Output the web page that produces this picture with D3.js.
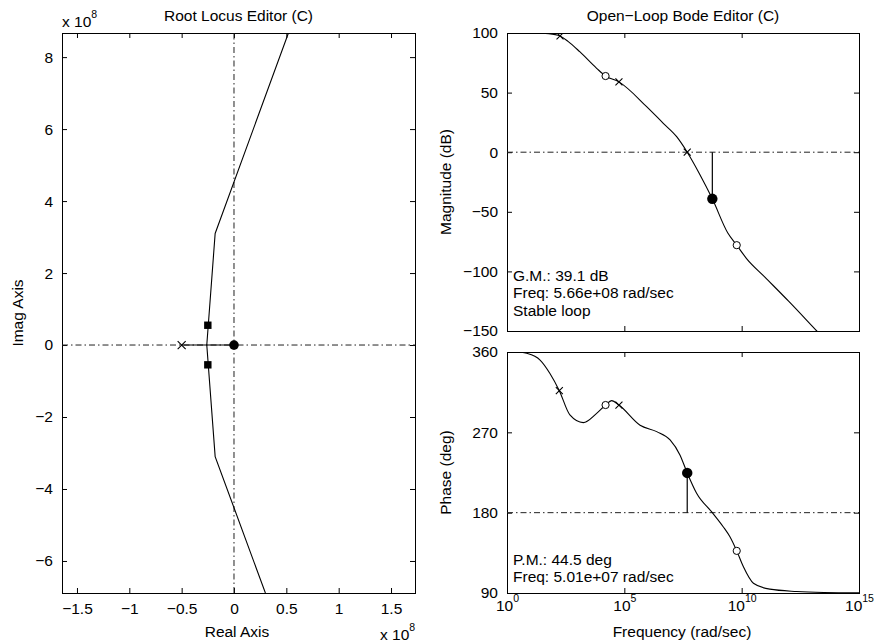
<!DOCTYPE html>
<html>
<head>
<meta charset="utf-8">
<script src="https://cdn.jsdelivr.net/npm/d3@7"></script>
<style>
  body { margin: 0; background: #fff; }
  svg { display: block; }
</style>
</head>
<body>
<svg id="chart"></svg>
<script>
const W = 874, H = 643;
const FONT = '"Liberation Sans", Arial, Helvetica, sans-serif';
const FS = 15.5;

// ---- root locus data (units of 1e8) ----
const rlXTicks = [-1.5, -1, -0.5, 0, 0.5, 1, 1.5];
const rlYTicks = [-6, -4, -2, 0, 2, 4, 6, 8];
const rlOpenPoles = [[-0.5, 0]];
const rlOpenZeros = [[0, 0]];
const rlClosedPoles = [[-0.25, 0.55], [-0.25, -0.55]];
const rlBranchReal = [[-0.5, 0], [0, 0]];
const rlBranchUp = [[-0.26, 0], [-0.18, 3.1], [0.52, 8.67]];
const rlBranchDown = [[-0.26, 0], [-0.18, -3.1], [0.30, -6.89]];

// ---- bode data (frequency as log10 rad/sec) ----
const freqTicks = [1, 1e5, 1e10, 1e15];
const magTicks = [-150, -100, -50, 0, 50, 100];
const phaseTicks = [90, 180, 270, 360];

const magExp = [0, 1, 1.5, 2, 2.26, 2.6, 3.1, 3.82, 4.2, 4.77, 5.95, 6.66, 7.23, 7.68, 8.2, 8.75, 9.41, 9.79, 10.2, 11, 12, 13.2, 14.5];
const magDb  = [100, 100, 99.8, 98.8, 97.5, 93, 84.3, 70.4, 63.9, 59, 38.2, 24.2, 13, 0, -18, -39.1, -67.8, -78, -89, -105, -125, -150, -177];

const phExp = [0, 0.5, 0.84, 1.41, 1.83, 2.23, 2.68, 3.25, 3.82, 4.2, 4.46, 4.77, 5.67, 6.38, 6.95, 7.37, 7.68, 8.08, 8.75, 9.22, 9.5, 9.79, 10.07, 10.5, 11.2, 12.34, 13.5, 15];
const phDeg = [360, 359.8, 358.5, 351, 336, 316.7, 289.5, 280.9, 291.3, 300.6, 305.5, 300.6, 278, 270.8, 261.5, 244.7, 224.5, 201.7, 180, 164, 153, 137.2, 119.6, 101, 94.3, 91.7, 90.6, 90.2];

const magPoles = [[2.26, 97.5], [4.77, 59], [7.68, 0]];
const magZeros = [[4.2, 63.9], [9.79, -78]];
const gmPoint = [8.75, -39.1];
const phPoles = [[2.23, 316.7], [4.77, 300.6]];
const phZeros = [[4.2, 300.6], [9.79, 137.2]];
const pmPoint = [7.68, 224.5];

const gmText = ["G.M.: 39.1 dB", "Freq: 5.66e+08 rad/sec", "Stable loop"];
const pmText = ["P.M.: 44.5 deg", "Freq: 5.01e+07 rad/sec"];

const svg = d3.select("#chart").attr("width", W).attr("height", H)
  .attr("font-family", FONT).attr("font-size", FS);
svg.append("rect").attr("width", W).attr("height", H).attr("fill", "#fff");

const DASH = "6,3,1.5,3";
const noLabel = () => "";
const minus = d => String(d).replace("-", "\u2212");

function xMark(g, cx, cy, s) {
  g.append("path")
    .attr("d", `M${cx - s},${cy - s}L${cx + s},${cy + s}M${cx - s},${cy + s}L${cx + s},${cy - s}`)
    .attr("stroke", "#000").attr("stroke-width", 1.1).attr("fill", "none");
}

// box with inward ticks on all four sides; labels only bottom (optional) and left
function frame(g, x, y, xt, yt, showX, xPad, clipId) {
  const [x0, x1] = x.range();
  const [y0, y1] = y.range(); // y0 bottom, y1 top
  const b = g.append("g").attr("transform", `translate(0,${y0})`)
    .call(d3.axisBottom(x).tickValues(xt).tickSizeInner(-5).tickSizeOuter(0).tickPadding(xPad)
      .tickFormat(showX ? minus : noLabel));
  const t = g.append("g").attr("transform", `translate(0,${y1})`)
    .call(d3.axisTop(x).tickValues(xt).tickSizeInner(-5).tickSizeOuter(0).tickFormat(noLabel));
  const l = g.append("g").attr("transform", `translate(${x0},0)`)
    .call(d3.axisLeft(y).tickValues(yt).tickSizeInner(-5).tickSizeOuter(0).tickPadding(9).tickFormat(minus));
  const r = g.append("g").attr("transform", `translate(${x1},0)`)
    .call(d3.axisRight(y).tickValues(yt).tickSizeInner(-5).tickSizeOuter(0).tickFormat(noLabel));
  [b, t, l, r].forEach(a => {
    a.attr("font-size", FS).attr("font-family", FONT);
    a.select(".domain").remove();
  });
  [t, r].forEach(a => a.selectAll(".tick text").remove());
  if (!showX) b.selectAll(".tick text").remove();
  g.append("rect")
    .attr("x", x0).attr("y", y1).attr("width", x1 - x0).attr("height", y0 - y1)
    .attr("fill", "none").attr("stroke", "#000").attr("stroke-width", 1)
    .attr("shape-rendering", "crispEdges");
  g.append("clipPath").attr("id", clipId).append("rect")
    .attr("x", x0).attr("y", y1).attr("width", x1 - x0).attr("height", y0 - y1);
  return b;
}

// ================= Root locus =================
const xR = d3.scaleLinear([-1.643, 1.729], [62, 415]);
const yR = d3.scaleLinear([-6.89, 8.67], [593, 33]);
const gR = svg.append("g");
frame(gR, xR, yR, rlXTicks, rlYTicks, true, 10, "clipR");

const plotR = gR.append("g").attr("clip-path", "url(#clipR)");
plotR.append("line").attr("x1", xR.range()[0]).attr("x2", xR.range()[1])
  .attr("y1", yR(0)).attr("y2", yR(0))
  .attr("stroke", "#222").attr("stroke-dasharray", DASH);
plotR.append("line").attr("y1", yR.range()[0]).attr("y2", yR.range()[1])
  .attr("x1", xR(0)).attr("x2", xR(0))
  .attr("stroke", "#222").attr("stroke-dasharray", DASH);

const lineR = d3.line().x(d => xR(d[0])).y(d => yR(d[1]));
[rlBranchReal, rlBranchUp, rlBranchDown].forEach(br => {
  plotR.append("path").attr("d", lineR(br)).attr("fill", "none")
    .attr("stroke", "#000").attr("stroke-width", 1.1);
});
rlOpenPoles.forEach(p => xMark(plotR, xR(p[0]), yR(p[1]), 4));
rlOpenZeros.forEach(p => plotR.append("circle").attr("cx", xR(p[0])).attr("cy", yR(p[1])).attr("r", 4.8).attr("fill", "#000"));
rlClosedPoles.forEach(p => plotR.append("rect")
  .attr("x", xR(p[0]) - 3.7).attr("y", yR(p[1]) - 3.7).attr("width", 7.4).attr("height", 7.4).attr("fill", "#000"));

gR.append("text").attr("x", 238.5).attr("y", 20.5).attr("text-anchor", "middle").text("Root Locus Editor (C)");
gR.append("text").attr("x", 237).attr("y", 637).attr("text-anchor", "middle").text("Real Axis");
gR.append("text").attr("transform", "translate(23,313) rotate(-90)").attr("text-anchor", "middle").text("Imag Axis");

function expLabel(g, x, y) {
  const t = g.append("text").attr("x", x).attr("y", y);
  t.append("tspan").text("x 10");
  t.append("tspan").attr("dy", -9).attr("font-size", 10.5).text("8");
}
expLabel(gR, 62, 27);
expLabel(gR, 380, 640);

// ================= Bode =================
const xF = d3.scaleLog([1, 1e15], [507, 859]);
const yM = d3.scaleLinear([-150, 100], [331, 33]);
const yP = d3.scaleLinear([90, 360], [593, 352]);

const gM = svg.append("g");
frame(gM, xF, yM, freqTicks, magTicks, false, 7, "clipM");
const gP = svg.append("g");
const phBottom = frame(gP, xF, yP, freqTicks, phaseTicks, true, 7, "clipP");
phBottom.selectAll(".tick text").each(function (d) {
  const t = d3.select(this).text(null);
  t.append("tspan").text("10");
  t.append("tspan").attr("dy", -9).attr("font-size", 10.5).text(Math.round(Math.log10(d)));
});

const plotM = gM.append("g").attr("clip-path", "url(#clipM)");
plotM.append("line").attr("x1", 507).attr("x2", 859).attr("y1", yM(0)).attr("y2", yM(0))
  .attr("stroke", "#222").attr("stroke-dasharray", DASH);
plotM.append("line").attr("x1", xF(10 ** gmPoint[0])).attr("x2", xF(10 ** gmPoint[0]))
  .attr("y1", yM(0)).attr("y2", yM(gmPoint[1])).attr("stroke", "#000").attr("stroke-width", 1.2);
const lineM = d3.line().curve(d3.curveMonotoneX)
  .x((d, i) => xF(10 ** magExp[i])).y((d, i) => yM(magDb[i]));
plotM.append("path").attr("d", lineM(magExp)).attr("fill", "none").attr("stroke", "#000").attr("stroke-width", 1.1);
magPoles.forEach(p => xMark(plotM, xF(10 ** p[0]), yM(p[1]), 3.5));
magZeros.forEach(p => plotM.append("circle").attr("cx", xF(10 ** p[0])).attr("cy", yM(p[1])).attr("r", 3.6)
  .attr("fill", "#fff").attr("stroke", "#000").attr("stroke-width", 1));
plotM.append("circle").attr("cx", xF(10 ** gmPoint[0])).attr("cy", yM(gmPoint[1])).attr("r", 5.2).attr("fill", "#000");

const plotP = gP.append("g").attr("clip-path", "url(#clipP)");
plotP.append("line").attr("x1", 507).attr("x2", 859).attr("y1", yP(180)).attr("y2", yP(180))
  .attr("stroke", "#222").attr("stroke-dasharray", DASH);
plotP.append("line").attr("x1", xF(10 ** pmPoint[0])).attr("x2", xF(10 ** pmPoint[0]))
  .attr("y1", yP(180)).attr("y2", yP(pmPoint[1])).attr("stroke", "#000").attr("stroke-width", 1.2);
const lineP = d3.line().curve(d3.curveMonotoneX)
  .x((d, i) => xF(10 ** phExp[i])).y((d, i) => yP(phDeg[i]));
plotP.append("path").attr("d", lineP(phExp)).attr("fill", "none").attr("stroke", "#000").attr("stroke-width", 1.1);
phPoles.forEach(p => xMark(plotP, xF(10 ** p[0]), yP(p[1]), 3.5));
phZeros.forEach(p => plotP.append("circle").attr("cx", xF(10 ** p[0])).attr("cy", yP(p[1])).attr("r", 3.6)
  .attr("fill", "#fff").attr("stroke", "#000").attr("stroke-width", 1));
plotP.append("circle").attr("cx", xF(10 ** pmPoint[0])).attr("cy", yP(pmPoint[1])).attr("r", 5.2).attr("fill", "#000");

gM.append("text").attr("x", 683).attr("y", 20.5).attr("text-anchor", "middle").text("Open\u2212Loop Bode Editor (C)");
gM.append("text").attr("transform", "translate(451,182) rotate(-90)").attr("text-anchor", "middle").text("Magnitude (dB)");
gP.append("text").attr("transform", "translate(451,472.5) rotate(-90)").attr("text-anchor", "middle").text("Phase (deg)");
gP.append("text").attr("x", 682).attr("y", 637).attr("text-anchor", "middle").text("Frequency (rad/sec)");

gmText.forEach((s, i) => gM.append("text").attr("x", 513).attr("y", 280.5 + i * 17.5).text(s));
pmText.forEach((s, i) => gP.append("text").attr("x", 513).attr("y", 564.5 + i * 17).text(s));
</script>
</body>
</html>
